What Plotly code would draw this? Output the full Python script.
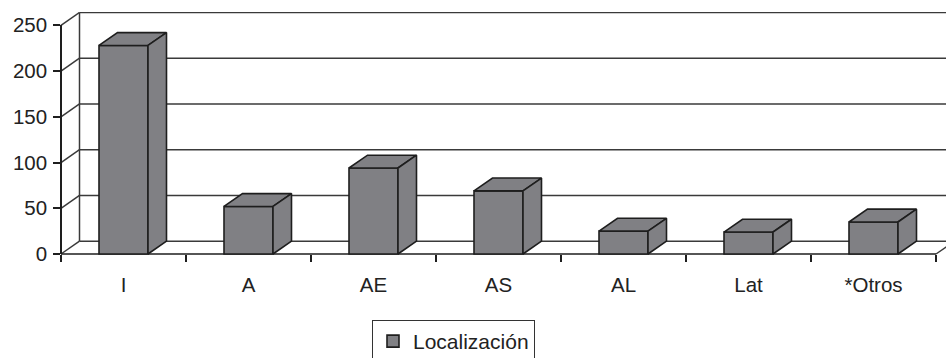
import plotly.graph_objects as go

# ---- data ----
categories = ["I", "A", "AE", "AS", "AL", "Lat", "*Otros"]
values = [228, 52, 94, 69, 25, 24, 35]
series_name = "Localización"
y_ticks = [0, 50, 100, 150, 200, 250]

# ---- style / geometry constants ----
W, H = 946, 358
ML, MR, MT, MB = 58, 0, 12, 102
PX_PER_CAT = 125.0
PX_PER_UNIT = 228.7 / 250.0
ZERO_PX = 254.0          # pixel row of value 0 (front plane)
LEFT_PX = 61.0           # pixel column of category edge -0.5
DX = 0.148               # depth offset in category units
DY = 14.0                # depth offset in value units
BAR_W = 0.392
FACE = "#808084"
EDGE = "#1e1e1e"
GRID = "#3a3a3a"
FONT = dict(family="Liberation Sans, Arial, sans-serif", size=20.5, color="#222222")
LEGEND_FONT = dict(family="Liberation Sans, Arial, sans-serif", size=21, color="#222222")

plot_w = W - ML - MR
plot_h = H - MT - MB
x0 = -0.5 - (LEFT_PX - ML) / PX_PER_CAT
x1 = x0 + plot_w / PX_PER_CAT
y0 = -((H - MB) - ZERO_PX) / PX_PER_UNIT
y1 = y0 + plot_h / PX_PER_UNIT
ymax = max(y_ticks)

xs = list(range(len(categories)))
n = len(categories)

fig = go.Figure()

# front faces
fig.add_trace(go.Bar(
    x=xs, y=values, width=BAR_W, name=series_name,
    marker=dict(color=FACE, line=dict(color=EDGE, width=1.6)),
    showlegend=True, hoverinfo="skip"))

# top faces and side faces
tx, ty, sx, sy = [], [], [], []
for x, v in zip(xs, values):
    l, r = x - BAR_W / 2, x + BAR_W / 2
    tx += [l, r, r + DX, l + DX, l, None]
    ty += [v, v, v + DY, v + DY, v, None]
    sx += [r, r + DX, r + DX, r, r, None]
    sy += [0, DY, v + DY, v, 0, None]
for px_, py_ in ((tx, ty), (sx, sy)):
    fig.add_trace(go.Scatter(
        x=px_, y=py_, mode="lines", fill="toself", fillcolor=FACE,
        line=dict(color=EDGE, width=1.6), showlegend=False, hoverinfo="skip"))

# dummy trace for the front value axis
fig.add_trace(go.Scatter(x=[None], y=[None], yaxis="y2", showlegend=False))

# walls and floor
shapes = []
gl = dict(color=GRID, width=1.5)
for v in y_ticks:
    shapes.append(dict(type="line", xref="x", yref="y", layer="below",
                       x0=-0.5 + DX, x1=x1 + 1, y0=v + DY, y1=v + DY, line=gl))
    shapes.append(dict(type="line", xref="x", yref="y", layer="below",
                       x0=-0.5, x1=-0.5 + DX, y0=v, y1=v + DY, line=gl))
shapes.append(dict(type="line", xref="x", yref="y", layer="below",
                   x0=-0.5 + DX, x1=-0.5 + DX, y0=DY, y1=ymax + DY, line=gl))
shapes.append(dict(type="line", xref="x", yref="y", layer="below",
                   x0=n - 0.5, x1=n - 0.5 + DX, y0=0, y1=DY, line=gl))
shapes.append(dict(type="line", xref="x", yref="y", layer="below",
                   x0=-0.5, x1=n - 0.5, y0=0, y1=0, line=dict(color=EDGE, width=1.5)))

zero_paper = (0 - y0) / (y1 - y0)
top_paper = (ymax - y0) / (y1 - y0)
left_paper = (-0.5 - x0) / (x1 - x0)

fig.update_layout(
    width=W, height=H,
    margin=dict(l=ML, r=MR, t=MT, b=MB, autoexpand=False),
    paper_bgcolor="white", plot_bgcolor="rgba(0,0,0,0)",
    font=FONT,
    shapes=shapes,
    xaxis=dict(range=[x0, x1], tickvals=xs, ticktext=categories,
               ticks="outside", ticklen=12, tickcolor="rgba(0,0,0,0)",
               showgrid=False, zeroline=False, showline=False,
               anchor="free", position=zero_paper,
               minor=dict(tickmode="array",
                          tickvals=[i - 0.5 for i in range(n + 1)],
                          ticks="outside", ticklen=7, tickcolor=EDGE,
                          tickwidth=1.5, showgrid=False),
               tickfont=FONT, fixedrange=True),
    yaxis=dict(range=[y0, y1], visible=False, fixedrange=True),
    yaxis2=dict(range=[0, ymax], domain=[zero_paper, top_paper],
                anchor="free", position=left_paper, side="left",
                tickvals=y_ticks, ticks="outside", ticklen=7, tickcolor=EDGE,
                tickwidth=1.5, showline=True, linecolor=EDGE, linewidth=1.5,
                showgrid=False, zeroline=False, tickfont=FONT,
                ticklabelstandoff=2, fixedrange=True),
    legend=dict(x=(372 - ML) / plot_w, y=-(320 - (H - MB)) / plot_h,
                xanchor="left", yanchor="top",
                bordercolor="#333333", borderwidth=1, bgcolor="white",
                entrywidth=140, entrywidthmode="pixels",
                font=LEGEND_FONT),
    showlegend=True,
)

fig.write_html("out.html")
